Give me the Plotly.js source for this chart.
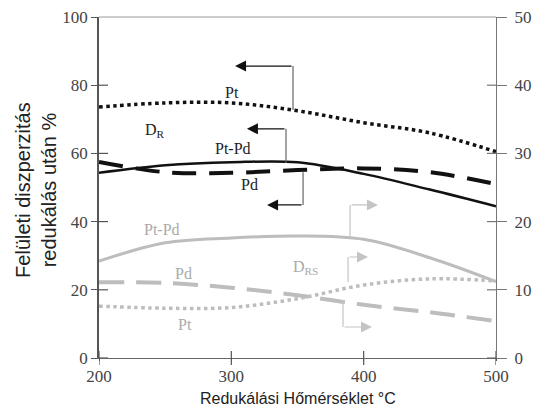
<!DOCTYPE html>
<html>
<head>
<meta charset="utf-8">
<script src="https://cdn.plot.ly/plotly-3.0.1.min.js"></script>
<style>html,body{margin:0;padding:0;background:#fff;}#chart{width:535px;height:411px;}</style>
</head>
<body>
<div id="chart"></div>
<script>
// Reduction temperature (°C)
const temps = [200, 250, 300, 350, 400, 450, 500];
// D_R (left axis, %)
const ptDR   = [73.6, 74.8, 74.8, 72.5, 69.0, 66.0, 60.5];
const ptpdDR = [54.3, 56.5, 57.4, 57.4, 54.0, 49.4, 44.5];
const pdDR   = [57.5, 54.5, 54.3, 55.1, 55.6, 54.5, 51.0];
// D_RS (right axis, %)
const ptpdDRS = [14.2, 16.9, 17.6, 17.9, 17.4, 14.7, 11.2];
const pdDRS   = [11.1, 11.0, 10.3, 9.2, 7.8, 6.7, 5.4];
const ptDRS   = [7.6, 7.3, 7.4, 8.7, 10.7, 11.6, 11.3];
// tick values
const xTicks = [200, 300, 400, 500];
const yLeftTicks = [0, 20, 40, 60, 80, 100];
const yRightTicks = [0, 10, 20, 30, 40, 50];
const xTitle = 'Redukálási Hőmérséklet °C';
const yTitle = 'Felületi diszperzitás<br>redukálás után %';

const BLACK = '#111111';
const GRAY = '#bdbdbd';

function tr(y, axis, color, width, dash) {
  return {x: temps, y: y, yaxis: axis, type: 'scatter', mode: 'lines',
    line: {color: color, width: width, dash: dash, shape: 'spline', smoothing: 1},
    hoverinfo: 'skip', showlegend: false};
}
const data = [
  tr(ptDR, 'y', BLACK, 3.5, 'dot'),
  tr(ptpdDR, 'y', BLACK, 2.5, 'solid'),
  tr(pdDR, 'y', BLACK, 4, '24px,13px'),
  tr(ptpdDRS, 'y2', GRAY, 3, 'solid'),
  tr(pdDRS, 'y2', GRAY, 4, '25px,12px'),
  tr(ptDRS, 'y2', GRAY, 3.5, 'dot')
];

const shapes = [];
shapes.push({type: 'line', xref: 'paper', yref: 'paper', x0: 0, x1: 1, y0: 1, y1: 1, line: {color: '#9a9a9a', width: 1}});
// crossing tick marks
yLeftTicks.slice(0, -1).forEach(v => shapes.push({type: 'line', xref: 'paper', xsizemode: 'pixel', xanchor: 0, x0: 0, x1: 9, yref: 'y', y0: v, y1: v, line: {color: '#555', width: 1.2}}));
yRightTicks.slice(0, -1).forEach(v => shapes.push({type: 'line', xref: 'paper', xsizemode: 'pixel', xanchor: 1, x0: -9, x1: 0, yref: 'y2', y0: v, y1: v, line: {color: '#777', width: 1.2}}));
xTicks.forEach(v => shapes.push({type: 'line', yref: 'paper', ysizemode: 'pixel', yanchor: 0, y0: -7, y1: 7, xref: 'x', x0: v, x1: v, line: {color: '#555', width: 1.2}}));

// bracket arrows: [x of vertical, y start, y end, x tip, line colour, head colour]
const brackets = [
  [346.6, 72.7, 85.6, 302.8, '#666', BLACK],
  [341.3, 57.2, 67.2, 311.8, '#666', BLACK],
  [354.2, 54.5, 44.9, 327.0, '#666', BLACK],
  [389.7, 35.5, 44.9, 410.8, '#c4c4c4', '#c4c4c4'],
  [388.2, 22.3, 29.6, 403.3, '#c4c4c4', '#c4c4c4'],
  [384.4, 17.0, 9.1, 406.3, '#c4c4c4', '#c4c4c4']
];
const annotations = [];
brackets.forEach(b => {
  shapes.push({type: 'line', xref: 'x', yref: 'y', x0: b[0], x1: b[0], y0: b[1], y1: b[2], line: {color: b[4], width: 1.2}});
  annotations.push({xref: 'x', yref: 'y', axref: 'x', ayref: 'y', x: b[3], y: b[2], ax: b[0], ay: b[2], text: '', showarrow: true, arrowhead: 2, arrowsize: 2, arrowwidth: 1.1, arrowcolor: b[5]});
});
function lab(x, y, t, c) {
  annotations.push({xref: 'x', yref: 'y', x: x, y: y, text: t, showarrow: false, font: {family: 'Liberation Serif', size: 16, color: c}});
}
lab(300.5, 78.0, 'Pt', '#222');
lab(242.3, 66.6, 'D<sub>R</sub>', '#222');
lab(301.3, 61.3, 'Pt-Pd', '#222');
lab(314.0, 51.0, 'Pd', '#222');
lab(247.6, 37.8, 'Pt-Pd', '#aaa');
lab(263.5, 24.9, 'Pd', '#aaa');
lab(265.0, 9.7, 'Pt', '#aaa');
lab(356.4, 26.4, 'D<sub>RS</sub>', '#aaa');
// axis titles
annotations.push({xref: 'paper', yref: 'paper', x: 0.5, y: 0, yshift: -40, yanchor: 'middle', xanchor: 'center', text: xTitle, showarrow: false, font: {family: 'Liberation Sans', size: 16, color: '#222'}});
annotations.push({xref: 'paper', yref: 'paper', x: 0, xshift: -63, y: 0.493, xanchor: 'center', yanchor: 'middle', textangle: -90, text: yTitle, showarrow: false, font: {family: 'Liberation Sans', size: 20, color: '#222'}});

const layout = {
  width: 535, height: 411,
  margin: {l: 99, r: 39, t: 17, b: 53},
  paper_bgcolor: '#fff', plot_bgcolor: '#fff',
  showlegend: false,
  xaxis: {range: [200, 500], tickvals: xTicks,
    showline: true, linecolor: '#666', linewidth: 1.2, ticks: 'outside', ticklen: 2, tickcolor: '#555', tickwidth: 1.2,
    showgrid: false, zeroline: false, tickfont: {family: 'Liberation Serif', size: 17, color: '#444'}},
  yaxis: {range: [0, 100], tickvals: yLeftTicks,
    showline: true, linecolor: '#555', linewidth: 1.5, ticks: 'outside', ticklen: 6, tickcolor: '#555', tickwidth: 1.2,
    showgrid: false, zeroline: false, tickfont: {family: 'Liberation Serif', size: 17, color: '#444'}},
  yaxis2: {range: [0, 50], overlaying: 'y', side: 'right', tickvals: yRightTicks,
    showline: true, linecolor: '#777', linewidth: 1.2, ticks: 'outside', ticklen: 10, tickcolor: '#777', tickwidth: 1.2,
    ticklabelstandoff: 4, showgrid: false, zeroline: false, tickfont: {family: 'Liberation Serif', size: 17, color: '#444'}},
  shapes: shapes,
  annotations: annotations
};
Plotly.newPlot('chart', data, layout, {displayModeBar: false});
</script>
</body>
</html>
